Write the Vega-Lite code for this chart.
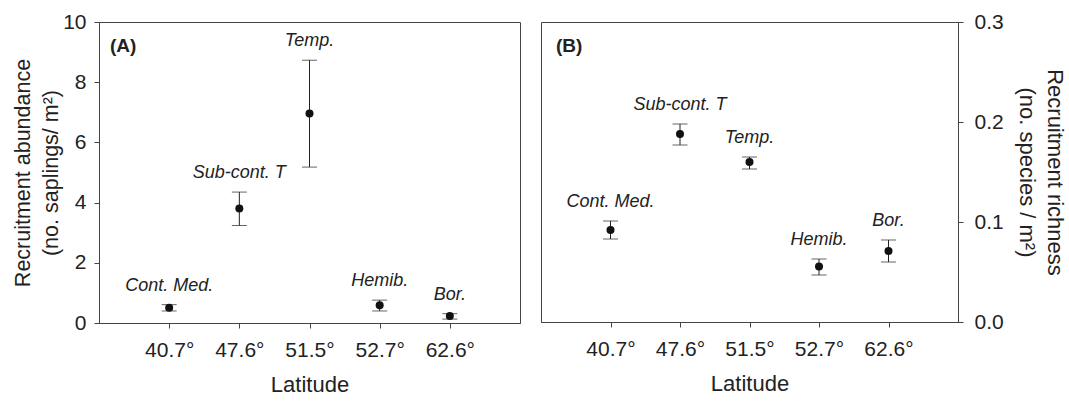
{
  "$schema": "https://vega.github.io/schema/vega-lite/v6.json",
  "padding": {"left": 12, "top": 10, "right": 5, "bottom": 5},
  "background": "white",
  "config": {
    "font": "Liberation Sans",
    "view": {"stroke": "#444", "strokeWidth": 1},
    "axis": {"grid": false, "domainColor": "#444", "tickColor": "#444", "labelColor": "#222", "titleColor": "#222", "labelFontSize": 21, "titleFontSize": 21.5, "titleFontWeight": "normal", "tickSize": 5, "titleLineHeight": 28},
    "concat": {"spacing": 19},
    "title": {"fontSize": 19, "fontWeight": "bold", "color": "#222"}
  },
  "datasets": {
    "abundance": [
      {"lat": "40.7°", "zone": "Cont. Med.", "mean": 0.51, "lower": 0.40, "upper": 0.61},
      {"lat": "47.6°", "zone": "Sub-cont. T", "mean": 3.80, "lower": 3.24, "upper": 4.35},
      {"lat": "51.5°", "zone": "Temp.", "mean": 6.96, "lower": 5.18, "upper": 8.73},
      {"lat": "52.7°", "zone": "Hemib.", "mean": 0.59, "lower": 0.40, "upper": 0.76},
      {"lat": "62.6°", "zone": "Bor.", "mean": 0.23, "lower": 0.13, "upper": 0.31}
    ],
    "richness": [
      {"lat": "40.7°", "zone": "Cont. Med.", "mean": 0.092, "lower": 0.083, "upper": 0.101},
      {"lat": "47.6°", "zone": "Sub-cont. T", "mean": 0.188, "lower": 0.177, "upper": 0.198},
      {"lat": "51.5°", "zone": "Temp.", "mean": 0.160, "lower": 0.153, "upper": 0.165},
      {"lat": "52.7°", "zone": "Hemib.", "mean": 0.0555, "lower": 0.047, "upper": 0.063},
      {"lat": "62.6°", "zone": "Bor.", "mean": 0.071, "lower": 0.060, "upper": 0.082}
    ]
  },
  "hconcat": [
    {
      "width": 421,
      "height": 301,
      "data": {"name": "abundance"},
      "title": {"text": "(A)", "anchor": "start", "frame": "group", "dx": 11, "offset": -45, "baseline": "top"},
      "encoding": {
        "x": {"field": "lat", "type": "ordinal", "sort": null, "scale": {"type": "point", "padding": 1},
              "axis": {"title": "Latitude", "labelAngle": 0, "labelPadding": 11, "titlePadding": 14, "titleFontSize": 22}}
      },
      "layer": [
        {"mark": {"type": "rule", "color": "#222"},
         "encoding": {"y": {"field": "lower", "type": "quantitative", "scale": {"domain": [0, 10]},
                            "axis": {"title": ["Recruitment abundance", "(no. saplings/ m²)"], "values": [0, 2, 4, 6, 8, 10], "labelPadding": 8, "titlePadding": 0}},
                      "y2": {"field": "upper"}}},
        {"mark": {"type": "tick", "color": "#222", "size": 15, "thickness": 1},
         "encoding": {"y": {"field": "upper", "type": "quantitative"}}},
        {"mark": {"type": "tick", "color": "#222", "size": 15, "thickness": 1},
         "encoding": {"y": {"field": "lower", "type": "quantitative"}}},
        {"mark": {"type": "point", "filled": true, "size": 64, "color": "#111", "opacity": 1},
         "encoding": {"y": {"field": "mean", "type": "quantitative"}}},
        {"mark": {"type": "text", "fontStyle": "italic", "fontSize": 18, "dy": -14, "baseline": "alphabetic", "color": "#222"},
         "encoding": {"y": {"field": "upper", "type": "quantitative"}, "text": {"field": "zone"}}}
      ]
    },
    {
      "width": 417,
      "height": 300,
      "data": {"name": "richness"},
      "title": {"text": "(B)", "anchor": "start", "frame": "group", "dx": 15, "offset": -45, "baseline": "top"},
      "encoding": {
        "x": {"field": "lat", "type": "ordinal", "sort": null, "scale": {"type": "point", "padding": 1},
              "axis": {"title": "Latitude", "labelAngle": 0, "labelPadding": 11, "titlePadding": 14, "titleFontSize": 22}}
      },
      "layer": [
        {"mark": {"type": "rule", "color": "#222"},
         "encoding": {"y": {"field": "lower", "type": "quantitative", "scale": {"domain": [0, 0.3]},
                            "axis": {"orient": "right", "title": ["Recruitment richness", "(no. species / m²)"], "titleAngle": 90, "values": [0, 0.1, 0.2, 0.3], "format": ".1f", "labelPadding": 11, "titlePadding": 11, "titleFontSize": 22}},
                      "y2": {"field": "upper"}}},
        {"mark": {"type": "tick", "color": "#222", "size": 15, "thickness": 1},
         "encoding": {"y": {"field": "upper", "type": "quantitative"}}},
        {"mark": {"type": "tick", "color": "#222", "size": 15, "thickness": 1},
         "encoding": {"y": {"field": "lower", "type": "quantitative"}}},
        {"mark": {"type": "point", "filled": true, "size": 64, "color": "#111", "opacity": 1},
         "encoding": {"y": {"field": "mean", "type": "quantitative"}}},
        {"mark": {"type": "text", "fontStyle": "italic", "fontSize": 18, "dy": -14, "baseline": "alphabetic", "color": "#222"},
         "encoding": {"y": {"field": "upper", "type": "quantitative"}, "text": {"field": "zone"}}}
      ]
    }
  ]
}
